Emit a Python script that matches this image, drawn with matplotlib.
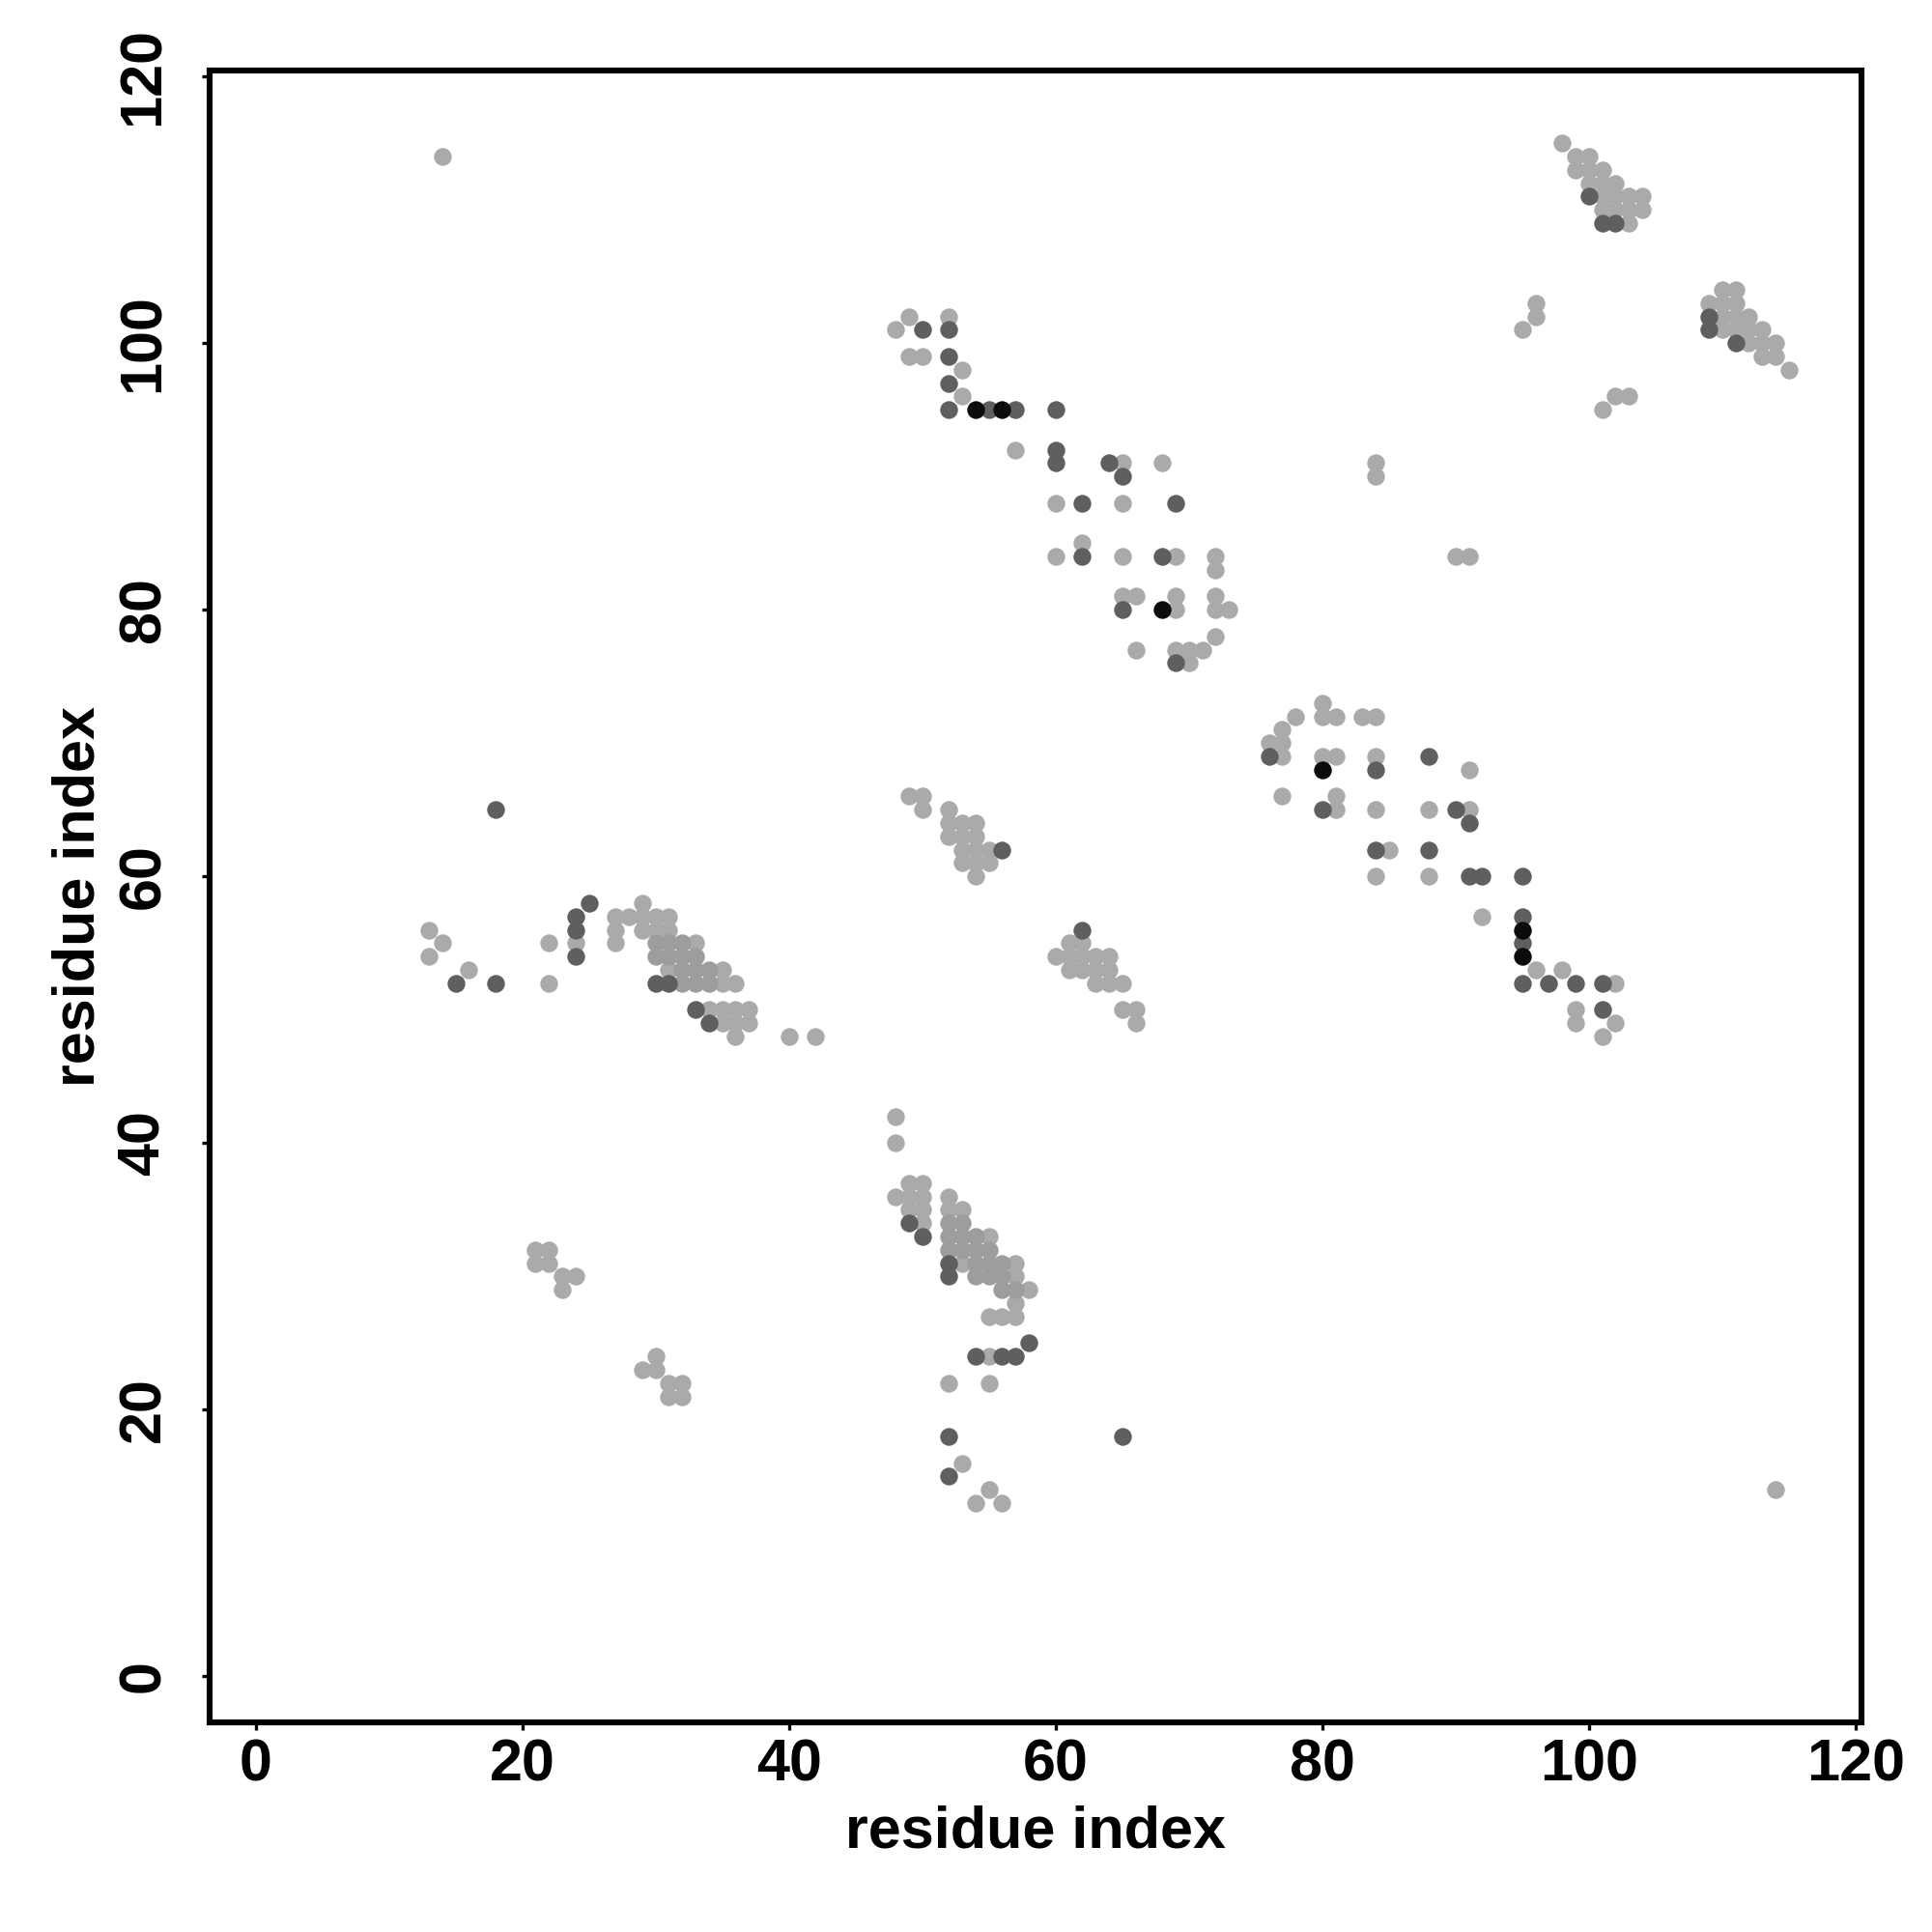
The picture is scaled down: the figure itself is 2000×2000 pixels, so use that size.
import matplotlib
matplotlib.use("Agg")
import matplotlib.pyplot as plt

# contact map points, grouped by grey level (residue i, residue j)
light_x = [98, 99, 100, 99, 100, 101, 100, 101, 102, 101, 102, 103, 104, 101, 102, 103, 104, 103,
           96, 96, 95, 102, 103, 101,
           110, 111, 109, 110, 111, 110, 111, 112, 110, 111, 112, 113, 112, 113, 114, 113, 114, 115,
           49, 48, 52, 49, 50, 53, 53, 57, 65, 68, 60, 65, 62, 60, 65, 69, 72, 72, 65, 66, 69, 69,
           72, 72, 73, 72, 66, 69, 70, 71, 70,
           80, 78, 80, 81, 83, 84, 77, 76, 77, 77, 80, 81, 84, 91, 77, 81, 81, 84, 88, 91, 85, 84,
           88, 92, 96, 98, 102, 99, 99, 102, 101,
           84, 84, 90, 91, 14, 114,
           13, 14, 13, 16, 22, 22, 24, 27, 28, 29, 29, 30, 31, 27, 27, 29, 30, 31, 33, 31, 35, 35,
           36, 34, 35, 36, 37, 35, 36, 37, 36, 40, 42,
           49, 50, 50, 52, 52, 53, 54, 52, 53, 54, 53, 54, 55, 53, 54, 55, 54, 61, 62, 60, 61, 62,
           63, 64, 61, 62, 63, 64, 63, 64, 65, 65, 66, 66,
           48, 48, 49, 50, 48, 49, 50, 49, 50, 50, 52, 52, 53, 55, 53, 57, 57, 58, 57, 55, 56, 57,
           55, 52, 55, 53, 55, 54, 56,
           21, 22, 21, 22, 23, 24, 23, 30, 29, 30, 31, 32, 31, 32]
light_y = [115, 114, 114, 113, 113, 113, 112, 112, 112, 111, 111, 111, 111, 110, 110, 110, 110, 109,
           103, 102, 101, 96, 96, 95,
           104, 104, 103, 103, 103, 102, 102, 102, 101, 101, 101, 101, 100, 100, 100, 99, 99, 98,
           102, 101, 102, 99, 99, 98, 96, 92, 91, 91, 88, 88, 85, 84, 84, 84, 84, 83, 81, 81, 81, 80,
           81, 80, 80, 78, 77, 77, 77, 77, 76,
           73, 72, 72, 72, 72, 72, 71, 70, 70, 69, 69, 69, 69, 68, 66, 66, 65, 65, 65, 65, 62, 60,
           60, 57, 53, 53, 52, 50, 49, 49, 48,
           91, 90, 84, 84, 114, 14,
           56, 55, 54, 53, 55, 52, 55, 57, 57, 58, 57, 57, 57, 56, 55, 56, 56, 56, 55, 53, 53, 52,
           52, 50, 50, 50, 50, 49, 49, 49, 48, 48, 48,
           66, 66, 65, 65, 64, 64, 64, 63, 63, 63, 62, 62, 62, 61, 61, 61, 60, 55, 55, 54, 54, 54,
           54, 54, 53, 53, 53, 53, 52, 52, 52, 50, 50, 49,
           42, 40, 37, 37, 36, 36, 36, 35, 35, 34, 36, 35, 35, 33, 31, 31, 30, 29, 28, 27, 27, 27,
           24, 22, 22, 16, 14, 13, 13,
           32, 32, 31, 31, 30, 30, 29, 24, 23, 23, 22, 22, 21, 21]

mid_x = [30, 31, 32, 30, 31, 32, 33, 32, 33, 34, 32, 33, 34,
         52, 53, 52, 53, 54, 52, 53, 54, 55, 54, 55, 56, 54, 55, 56, 56, 57]
mid_y = [55, 55, 55, 54, 54, 54, 54, 53, 53, 53, 52, 52, 52,
         34, 34, 33, 33, 33, 32, 32, 32, 32, 31, 31, 31, 30, 30, 30, 29, 29]

dark_x = [100, 101, 102, 109, 109, 111,
          50, 52, 52, 52, 52, 55, 57, 60, 60, 60, 64, 65, 62, 69, 62, 68, 65, 69,
          76, 88, 84, 80, 90, 91, 84, 88, 91, 92, 95, 95, 95, 95, 97, 99, 101, 101,
          18, 65,
          15, 18, 24, 24, 24, 25, 30, 31, 33, 34,
          56, 62,
          49, 50, 52, 52, 58, 54, 56, 57, 52, 52]
dark_y = [111, 109, 109, 102, 101, 100,
          101, 101, 99, 97, 95, 95, 95, 95, 92, 91, 91, 90, 88, 88, 84, 84, 80, 76,
          69, 69, 68, 65, 65, 64, 62, 62, 60, 60, 60, 57, 55, 52, 52, 52, 52, 50,
          65, 18,
          52, 52, 57, 56, 54, 58, 52, 52, 50, 49,
          62, 56,
          34, 33, 31, 30, 25, 24, 24, 24, 18, 15]

black_x = [54, 56, 68, 80, 95, 95]
black_y = [95, 95, 80, 68, 56, 54]

axis_ticks = [0, 20, 40, 60, 80, 100, 120]

plt.rcParams['font.family'] = ['Liberation Sans', 'DejaVu Sans']
plt.rcParams['font.weight'] = 'bold'

fig = plt.figure(figsize=(10, 10), dpi=200)
ax = fig.add_axes([0.1085, 0.1085, 0.855, 0.855])

ms = 44
ax.scatter(light_x, light_y, s=ms, c='#aaaaaa', linewidths=0, zorder=2)
ax.scatter(mid_x, mid_y, s=ms, c='#9d9d9d', linewidths=0, zorder=3)
ax.scatter(dark_x, dark_y, s=ms, c='#5f5f5f', linewidths=0, zorder=4)
ax.scatter(black_x, black_y, s=ms, c='#0c0c0c', linewidths=0, zorder=5)

ax.set_xlim(-3.45, 120.45)
ax.set_ylim(-3.45, 120.45)
ax.set_xticks(axis_ticks)
ax.set_yticks(axis_ticks)

for sp in ax.spines.values():
    sp.set_linewidth(2.2)

ax.tick_params(axis='both', direction='out', length=3, width=1.2, labelsize=22)
ax.tick_params(axis='x', pad=3)
ax.tick_params(axis='y', pad=11)
for lab in ax.get_yticklabels():
    lab.set_rotation(90)
    lab.set_va('center')
    lab.set_fontweight('bold')
for lab in ax.get_xticklabels():
    lab.set_fontweight('bold')

ax.set_xlabel("residue index", fontsize=22, fontweight='bold')
ax.set_ylabel("residue index", fontsize=22, fontweight='bold')
ax.xaxis.set_label_coords(0.5, -0.05)
ax.yaxis.set_label_coords(-0.062, 0.5)

fig.savefig("out.png", dpi=200, facecolor='white')
